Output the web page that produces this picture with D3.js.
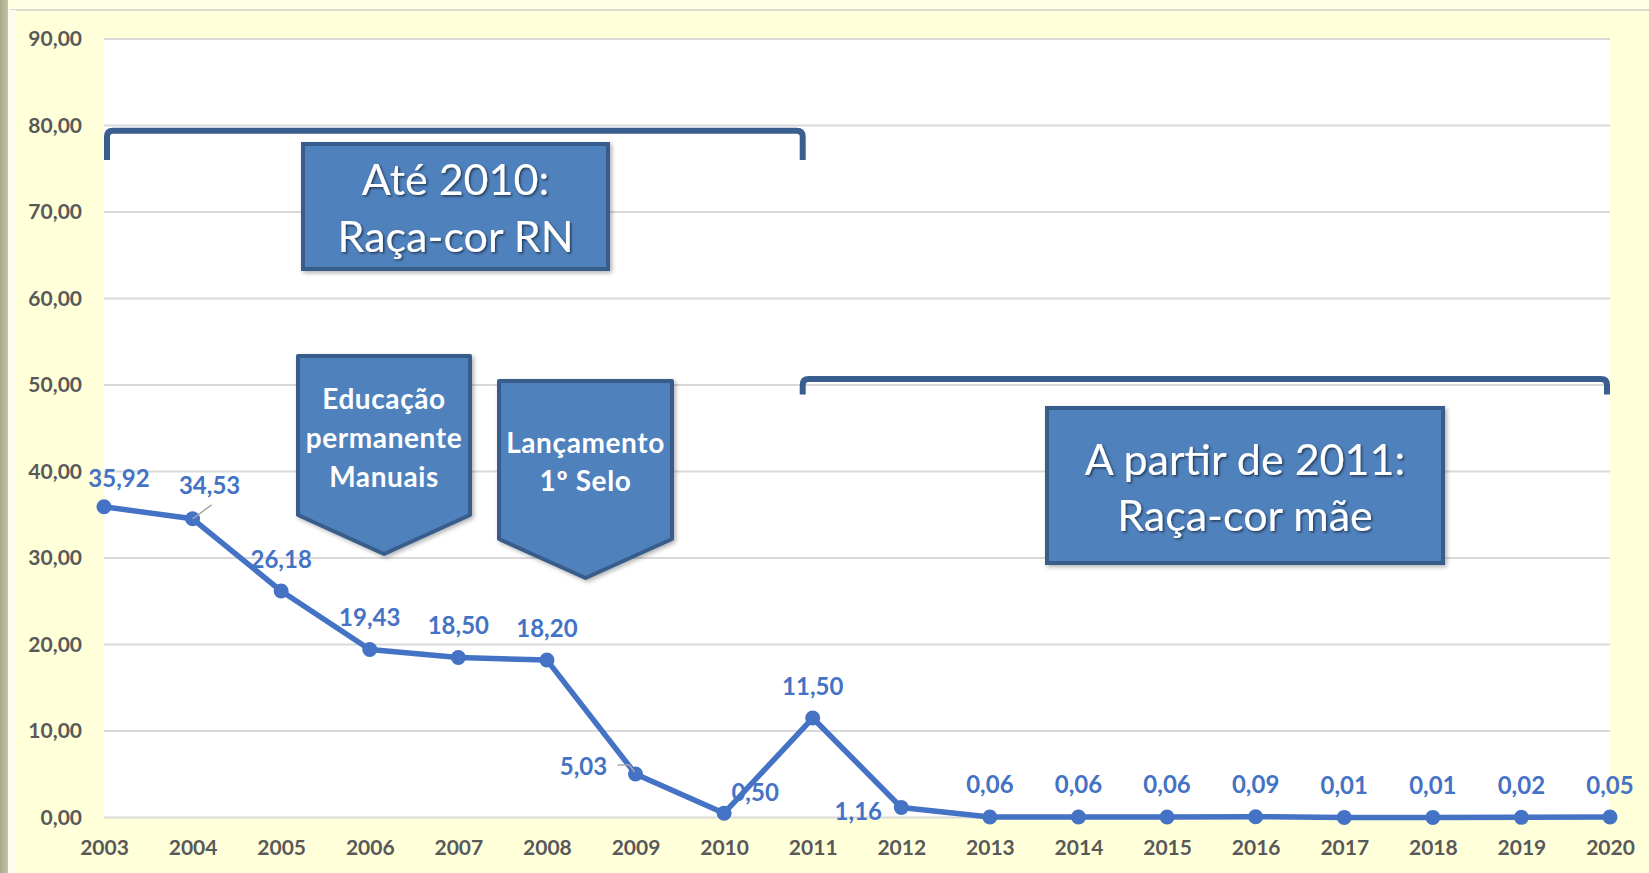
<!DOCTYPE html>
<html><head><meta charset="utf-8">
<script src="https://cdn.jsdelivr.net/npm/d3@7"></script>
<style>
html,body{margin:0;padding:0;background:#FFFFD9;}
svg{display:block;}
</style></head>
<body>
<svg id="chart" width="1649" height="873"></svg>
<script>
// ---- data ----
const years = ["2003","2004","2005","2006","2007","2008","2009","2010","2011","2012","2013","2014","2015","2016","2017","2018","2019","2020"];
const values = [35.92,34.53,26.18,19.43,18.50,18.20,5.03,0.50,11.50,1.16,0.06,0.06,0.06,0.09,0.01,0.01,0.02,0.05];
const yTicks = [0,10,20,30,40,50,60,70,80,90];

// ---- layout ----
const W = 1649, H = 873;
const plot = {left:104, right:1610, top:39, bottom:817.5};
const svg = d3.select("#chart");
const fmt = d3.formatLocale({decimal:",", thousands:".", grouping:[3], currency:["",""]}).format(".2f");

const x = d3.scalePoint().domain(years).range([plot.left, plot.right]);
const y = d3.scaleLinear().domain([0,90]).range([plot.bottom, plot.top]);

const defs = svg.append("defs");
const lg = defs.append("linearGradient").attr("id","leftg").attr("x1",0).attr("x2",1).attr("y1",0).attr("y2",0);
lg.append("stop").attr("offset","0%").attr("stop-color","#A9A98C");
lg.append("stop").attr("offset","100%").attr("stop-color","#C4C4A8");
const sh = defs.append("filter").attr("id","tshadow").attr("x","-20%").attr("y","-20%").attr("width","140%").attr("height","140%");
sh.append("feDropShadow").attr("dx",1.5).attr("dy",1.5).attr("stdDeviation",1).attr("flood-color","#000").attr("flood-opacity",0.55);
const bs = defs.append("filter").attr("id","bshadow").attr("x","-10%").attr("y","-10%").attr("width","130%").attr("height","130%");
bs.append("feDropShadow").attr("dx",2).attr("dy",2).attr("stdDeviation",2).attr("flood-color","#000").attr("flood-opacity",0.3);

// background frame
svg.append("rect").attr("width",W).attr("height",H).attr("fill","#FFFFD9");
svg.append("rect").attr("x",0).attr("y",0).attr("width",W).attr("height",10).attr("fill","#FFFFE3");
svg.append("line").attr("x1",10).attr("x2",W).attr("y1",10).attr("y2",10).attr("stroke","#DCDCCC").attr("stroke-width",2);
svg.append("rect").attr("x",0).attr("y",0).attr("width",8).attr("height",H).attr("fill","url(#leftg)");
svg.append("rect").attr("x",8).attr("y",10).attr("width",8).attr("height",H).attr("fill","#FBFBF0");

// plot area
svg.append("rect").attr("x",plot.left).attr("y",plot.top).attr("width",plot.right-plot.left).attr("height",plot.bottom-plot.top).attr("fill","#FFFFFF");

// gridlines
svg.append("g").selectAll("line").data(yTicks).join("line")
  .attr("x1",plot.left).attr("x2",plot.right)
  .attr("y1",d=>y(d)).attr("y2",d=>y(d))
  .attr("stroke","#D9D9D9").attr("stroke-width",2);

// y axis
const yAxis = svg.append("g").attr("transform",`translate(${plot.left-22},0)`)
  .call(d3.axisLeft(y).tickValues(yTicks).tickFormat(fmt).tickSize(0).tickPadding(0));
yAxis.select(".domain").remove();
yAxis.selectAll("text").attr("font-family","Lato").attr("font-weight","bold").attr("font-size",21).attr("fill","#595959");

// x axis
const xAxis = svg.append("g").attr("transform",`translate(0,${plot.bottom})`)
  .call(d3.axisBottom(x).tickSize(0).tickPadding(23));
xAxis.select(".domain").remove();
xAxis.selectAll("text").attr("font-family","Lato").attr("font-weight","bold").attr("font-size",21).attr("fill","#595959");

// ---- annotations ----
const bracketColor = "#3A5F8E";
function bracket(x1,x2,yTop,yLeg){
  const r = 6;
  const p = `M${x1},${yLeg} L${x1},${yTop+r} Q${x1},${yTop} ${x1+r},${yTop} L${x2-r},${yTop} Q${x2},${yTop} ${x2},${yTop+r} L${x2},${yLeg}`;
  svg.append("path").attr("d",p).attr("fill","none").attr("stroke",bracketColor).attr("stroke-width",6);
}
bracket(x("2003")+3, x("2011")-10, y(79.4), y(76.0));
bracket(x("2011")-10, x("2020")-3, y(50.7), y(48.9));

function box(x1,y1,x2,y2,lines,fs,lineY){
  svg.append("rect").attr("x",x1).attr("y",y1).attr("width",x2-x1).attr("height",y2-y1)
    .attr("fill","#4F81BD").attr("stroke","#385D8A").attr("stroke-width",4).attr("filter","url(#bshadow)");
  const t = svg.append("g").attr("filter","url(#tshadow)");
  lines.forEach((l,i)=>{
    t.append("text").attr("x",(x1+x2)/2).attr("y",lineY[i]).attr("text-anchor","middle")
      .attr("dominant-baseline","central").attr("font-family","Lato").attr("font-size",fs).attr("fill","#FFFFFF").text(l);
  });
}
box(303,144,608,269,["Até 2010:","Raça-cor RN"],43,[178,235]);
box(1047,408,1443,563,["A partir de 2011:","Raça-cor mãe"],43,[458,514]);

function pent(x1,x2,top,shoulder,tipY,lines,lineY){
  const cx = (x1+x2)/2;
  svg.append("path").attr("d",`M${x1},${top} L${x2},${top} L${x2},${shoulder} L${cx},${tipY} L${x1},${shoulder} Z`)
    .attr("fill","#4F81BD").attr("stroke","#385D8A").attr("stroke-width",4).attr("stroke-linejoin","round").attr("filter","url(#bshadow)");
  lines.forEach((l,i)=>{
    svg.append("text").attr("x",cx).attr("y",lineY[i]).attr("text-anchor","middle")
      .attr("dominant-baseline","central").attr("font-family","Lato").attr("font-weight","bold")
      .attr("font-size",28).attr("letter-spacing",0.6).attr("fill","#FFFFFF").text(l);
  });
}
pent(298,470,356,515,554,["Educação","permanente","Manuais"],[398,437,476]);
pent(499,672,381,539,578,["Lançamento","1º Selo"],[442,480]);

// ---- series ----
const pts = years.map((yr,i)=>({yr, v:values[i], px:x(yr), py:y(values[i])}));
svg.append("path").datum(pts)
  .attr("d", d3.line().x(d=>d.px).y(d=>d.py))
  .attr("fill","none").attr("stroke","#4472C4").attr("stroke-width",5.5).attr("stroke-linejoin","round");
svg.append("g").selectAll("circle").data(pts).join("circle")
  .attr("cx",d=>d.px).attr("cy",d=>d.py).attr("r",7.5).attr("fill","#4472C4");

// label placement (offsets from point)
const labelOffset = {"2003":[15,-29],"2004":[17,-34],"2009":[-52,-8],"2010":[31,-22],"2012":[-43,3]};
const leaders = {"2004":[[0,0],[19,-14]],"2009":[[-18,-9],[-6,-9],[-1,-2]]};
pts.forEach(d=>{
  if(leaders[d.yr]){
    svg.append("polyline").attr("points",leaders[d.yr].map(p=>`${d.px+p[0]},${d.py+p[1]}`).join(" "))
      .attr("fill","none").attr("stroke","#A6A6A6").attr("stroke-width",1.5);
  }
});
svg.append("g").selectAll("text").data(pts).join("text")
  .attr("x",d=>d.px+(labelOffset[d.yr]?labelOffset[d.yr][0]:0))
  .attr("y",d=>d.py+(labelOffset[d.yr]?labelOffset[d.yr][1]:-33))
  .attr("text-anchor","middle").attr("dominant-baseline","central")
  .attr("font-family","Lato").attr("font-weight","bold").attr("font-size",24).attr("fill","#4472C4")
  .text(d=>fmt(d.v));
</script>
</body></html>
